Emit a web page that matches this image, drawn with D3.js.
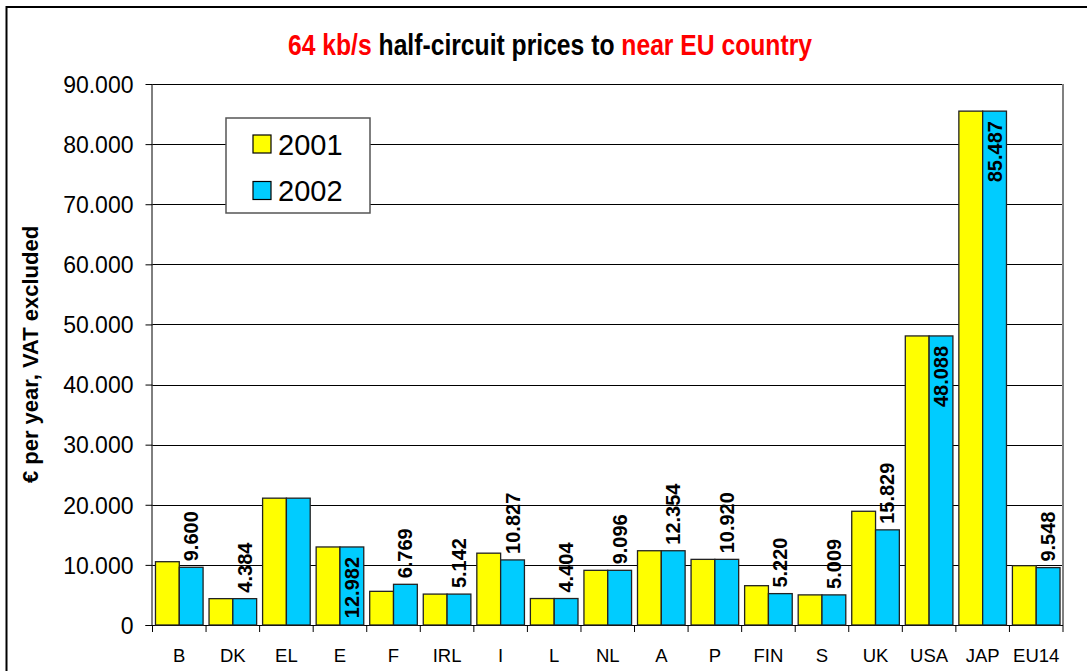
<!DOCTYPE html>
<html>
<head>
<meta charset="utf-8">
<script src="https://cdn.jsdelivr.net/npm/d3@7"></script>
<style>
  html, body { margin: 0; padding: 0; background: #fff; }
  svg { display: block; font-family: "Liberation Sans", Arial, sans-serif; }
</style>
</head>
<body>
<svg id="chart" width="1087" height="671"></svg>
<script>
// Annual 64 kb/s half-circuit prices (EUR, VAT excluded)
const categories = ["B", "DK", "EL", "E", "F", "IRL", "I", "L", "NL", "A", "P", "FIN", "S", "UK", "USA", "JAP", "EU14"];
const values2001 = [10530, 4384, 21100, 12982, 5600, 5142, 11950, 4404, 9096, 12354, 10920, 6540, 5009, 18920, 48088, 85487, 9870];
const values2002 = [9600, 4384, 21100, 12982, 6769, 5142, 10827, 4404, 9096, 12354, 10920, 5220, 5009, 15829, 48088, 85487, 9548];
const seriesNames = ["2001", "2002"];
const yTicks = [0, 10000, 20000, 30000, 40000, 50000, 60000, 70000, 80000, 90000];
const unlabelled = ["EL"];
const labelsInside = ["E", "USA", "JAP"];

const colors = { "2001": "#FFFF00", "2002": "#00CCFF" };
const svg = d3.select("#chart");

const plot = { left: 152.5, right: 1063, top: 84, bottom: 625 };

// Outer frame
svg.append("path")
  .attr("d", "M6.5,680 L6.5,7 L1100,7")
  .attr("fill", "none").attr("stroke", "#000").attr("stroke-width", 2);

// Title (condensed bold heading, two colours)
const title = svg.append("text")
  .attr("font-size", 30).attr("font-weight", "bold")
  .attr("text-anchor", "middle");
title.append("tspan").attr("fill", "#FF0000").text("64 kb/s");
title.append("tspan").attr("fill", "#000").text(" half-circuit prices to ");
title.append("tspan").attr("fill", "#FF0000").text("near EU country");
const tw = title.node().getComputedTextLength();
title.attr("transform", `translate(550,55) scale(${524 / tw},1)`);

// Scales
const x = d3.scaleBand().domain(categories).range([plot.left, plot.right]).paddingInner(0).paddingOuter(0);
const xs = d3.scaleBand().domain(seriesNames).range([0, x.bandwidth()]).paddingInner(0).paddingOuter(0.125);
const y = d3.scaleLinear().domain([0, 90000]).range([plot.bottom, plot.top]);

// Horizontal gridlines
svg.append("g").selectAll("line")
  .data(yTicks.filter(d => d > 0))
  .join("line")
  .attr("x1", plot.left).attr("x2", plot.right)
  .attr("y1", d => Math.round(y(d)) + 0.5).attr("y2", d => Math.round(y(d)) + 0.5)
  .attr("stroke", "#000").attr("stroke-width", 1);

// Right border of the plot area
svg.append("line")
  .attr("x1", plot.right).attr("x2", plot.right)
  .attr("y1", plot.top).attr("y2", plot.bottom)
  .attr("stroke", "#808080").attr("stroke-width", 2);

// Y axis
const fmt = d => d === 0 ? "0" : d3.format(",")(d).replace(/,/g, ".");
const yAxis = d3.axisLeft(y).tickValues(yTicks).tickFormat(fmt).tickSize(7).tickPadding(12);
const gy = svg.append("g").attr("transform", `translate(${plot.left},0)`).call(yAxis);
gy.select(".domain").attr("stroke", "#000").attr("d", `M-0.5,${plot.top}V${plot.bottom}`);
gy.selectAll(".tick line").attr("stroke", "#000");
gy.selectAll(".tick text").attr("font-size", 23).attr("fill", "#000")
  .attr("font-family", "Liberation Sans, Arial, sans-serif").attr("dy", "0.36em");

// X axis: tick marks at band boundaries, labels centred in each band
const gx = svg.append("g");
gx.append("line")
  .attr("x1", plot.left - 7).attr("x2", plot.right)
  .attr("y1", plot.bottom + 0.5).attr("y2", plot.bottom + 0.5)
  .attr("stroke", "#000").attr("stroke-width", 1);
const boundaries = categories.map(c => x(c)).concat([plot.right]);
gx.selectAll("line.tk").data(boundaries).join("line").attr("class", "tk")
  .attr("x1", d => d).attr("x2", d => d)
  .attr("y1", plot.bottom).attr("y2", plot.bottom + 7)
  .attr("stroke", "#000").attr("stroke-width", 1);
gx.selectAll("text").data(categories).join("text")
  .attr("x", d => x(d) + x.bandwidth() / 2)
  .attr("y", 662)
  .attr("text-anchor", "middle")
  .attr("font-size", 18.5)
  .attr("fill", "#000")
  .text(d => d);

// Bars
const rows = categories.map((c, i) => ({ cat: c, "2001": values2001[i], "2002": values2002[i] }));
const groups = svg.append("g").selectAll("g")
  .data(rows).join("g")
  .attr("transform", d => `translate(${x(d.cat)},0)`);
groups.selectAll("rect")
  .data(d => seriesNames.map(s => ({ s, v: d[s] })))
  .join("rect")
  .attr("x", d => xs(d.s))
  .attr("width", xs.bandwidth())
  .attr("y", d => y(d.v))
  .attr("height", d => y(0) - y(d.v))
  .attr("fill", d => colors[d.s])
  .attr("stroke", "#222")
  .attr("stroke-width", 1.3);

// Value labels on the 2002 bars (rotated)
const labelRows = rows.filter(d => !unlabelled.includes(d.cat));
svg.append("g").selectAll("text")
  .data(labelRows).join("text")
  .attr("transform", d => {
    const cx = x(d.cat) + xs("2002") + xs.bandwidth() / 2 + 7;
    const inside = labelsInside.includes(d.cat);
    const cy = inside ? y(d["2002"]) + 10 : y(d["2002"]) - 6;
    return `translate(${cx},${cy}) rotate(-90)`;
  })
  .attr("text-anchor", d => labelsInside.includes(d.cat) ? "end" : "start")
  .attr("font-size", 20)
  .attr("font-weight", "bold")
  .attr("fill", "#000")
  .text(d => fmt(d["2002"]));

// Y axis title
svg.append("text")
  .attr("transform", `translate(38,${(plot.top + plot.bottom) / 2}) rotate(-90)`)
  .attr("text-anchor", "middle")
  .attr("font-size", 22)
  .attr("font-weight", "bold")
  .attr("fill", "#000")
  .text("€ per year, VAT excluded");

// Legend
const legend = svg.append("g");
legend.append("rect")
  .attr("x", 226).attr("y", 118).attr("width", 144).attr("height", 95)
  .attr("fill", "#fff").attr("stroke", "#555").attr("stroke-width", 1.5);
seriesNames.forEach((s, i) => {
  const yy = 135 + i * 46.5;
  legend.append("rect")
    .attr("x", 253).attr("y", yy).attr("width", 18).attr("height", 18)
    .attr("fill", colors[s]).attr("stroke", "#000").attr("stroke-width", 1.2);
  legend.append("text")
    .attr("x", 278).attr("y", yy + 19.5)
    .attr("font-size", 29)
    .attr("fill", "#000")
    .text(s);
});
</script>
</body>
</html>
